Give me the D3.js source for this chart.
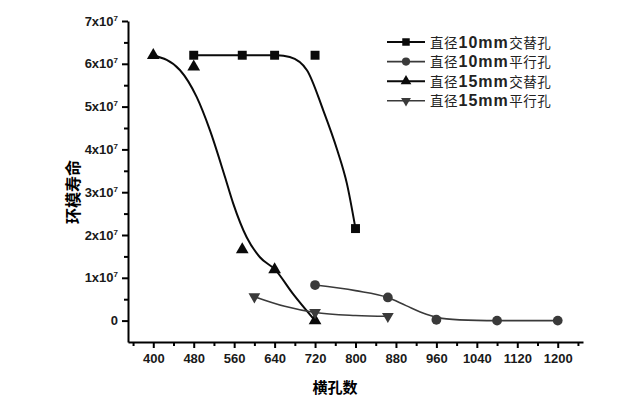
<!DOCTYPE html>
<html>
<head>
<meta charset="utf-8">
<script src="https://cdn.jsdelivr.net/npm/d3@7"></script>
<style>
    body { margin: 0; background: #fff; }
    .axis path, .axis line { stroke: #000; stroke-width: 2; }
    .axis text { font-family: "Liberation Sans", Arial, sans-serif; font-weight: bold; font-size: 13px; fill: #1a1a1a; }
</style>
</head>
<body>
<div id="chart"></div>
<script>

// x ticks and y ticks
var xMajor = [400, 480, 560, 640, 720, 800, 880, 960, 1040, 1120, 1200];
var xMinor = [360, 440, 520, 600, 680, 760, 840, 920, 1000, 1080, 1160, 1240];
var yMajor = [0, 1e7, 2e7, 3e7, 4e7, 5e7, 6e7, 7e7];
var yMinor = [0.5e7, 1.5e7, 2.5e7, 3.5e7, 4.5e7, 5.5e7, 6.5e7];

var seriesNames = ["直径10mm交替孔", "直径10mm平行孔", "直径15mm交替孔", "直径15mm平行孔"];

// measured points
var alt10X = [480, 576, 640, 720, 800];
var alt10Y = [6.2e7, 6.2e7, 6.2e7, 6.2e7, 2.15e7];
var par10X = [720, 864, 960, 1080, 1200];
var par10Y = [0.83e7, 0.54e7, 0.02e7, 0, 0];
var alt15X = [400, 480, 576, 640, 720];
var alt15Y = [6.2e7, 5.93e7, 1.66e7, 1.19e7, 0];
var par15X = [600, 720, 864];
var par15Y = [0.56e7, 0.19e7, 0.1e7];

// fitted curves
var alt10FitX = [480, 576, 645, 670, 704, 736, 764, 783, 800];
var alt10FitY = [6.2e7, 6.2e7, 6.2e7, 6.16e7, 5.85e7, 4.92e7, 3.98e7, 3.2e7, 2.15e7];
var par10FitX = [720, 800, 864, 900, 940, 980, 1040, 1080, 1200];
var par10FitY = [0.83e7, 0.7e7, 0.54e7, 0.35e7, 0.15e7, 0.04e7, 0.005e7, 0, 0];
var alt15FitX = [400, 453, 486, 512, 542, 558, 585, 611, 641, 676, 720];
var alt15FitY = [6.2e7, 5.85e7, 5.22e7, 4.45e7, 3.35e7, 2.74e7, 1.94e7, 1.48e7, 1.19e7, 0.63e7, 0];
var par15FitX = [600, 660, 720, 800, 864];
var par15FitY = [0.56e7, 0.335e7, 0.19e7, 0.12e7, 0.1e7];


function zip(xs, ys) {
    return xs.map(function(x, i) { return { x: x, y: ys[i] }; });
}

LifeChart = function(_parentElement){
    this.parentElement = _parentElement;
    this.series = [
        { name: seriesNames[0], pts: zip(alt10X, alt10Y), fit: zip(alt10FitX, alt10FitY), shape: d3.symbolSquare, size: 80, rot: 0, color: "#0a0a0a", lw: 2 },
        { name: seriesNames[1], pts: zip(par10X, par10Y), fit: zip(par10FitX, par10FitY), shape: d3.symbolCircle, size: 75, rot: 0, color: "#3a3a3a", lw: 1.6 },
        { name: seriesNames[2], pts: zip(alt15X, alt15Y), fit: zip(alt15FitX, alt15FitY), shape: d3.symbolTriangle, size: 70, rot: 0, color: "#0a0a0a", lw: 2 },
        { name: seriesNames[3], pts: zip(par15X, par15Y), fit: zip(par15FitX, par15FitY), shape: d3.symbolTriangle, size: 60, rot: 180, color: "#3a3a3a", lw: 1.6 }
    ];
    this.initVis();
}

LifeChart.prototype.initVis = function(){
    var vis = this;

    vis.width = 640;
    vis.height = 396;

    vis.svg = d3.select(vis.parentElement).append("svg")
        .attr("width", vis.width)
        .attr("height", vis.height);

    vis.x = d3.scaleLinear().domain([350, 1250]).range([128, 583]);
    vis.y = d3.scaleLinear().domain([-0.5e7, 7e7]).range([342, 21]);

    // minor ticks first, then the labelled ones
    vis.svg.append("g").attr("class", "axis")
        .attr("transform", "translate(0,342)")
        .call(d3.axisBottom(vis.x).tickValues(xMinor).tickSize(4).tickFormat(""))
        .select(".domain").remove();

    vis.svg.append("g").attr("class", "axis")
        .attr("transform", "translate(128,0)")
        .call(d3.axisLeft(vis.y).tickValues(yMinor).tickSize(4).tickFormat(""))
        .select(".domain").remove();

    vis.svg.append("g").attr("class", "axis")
        .attr("transform", "translate(0,342)")
        .call(d3.axisBottom(vis.x).tickValues(xMajor).tickSize(6).tickSizeOuter(0).tickPadding(6).tickFormat(d3.format("d")));

    var yAxis = vis.svg.append("g").attr("class", "axis")
        .attr("transform", "translate(128,0)")
        .call(d3.axisLeft(vis.y).tickValues(yMajor).tickSize(6).tickSizeOuter(0).tickPadding(4).tickFormat(""));

    yAxis.selectAll(".tick text").each(function(d) {
        var t = d3.select(this);
        if (d === 0) { t.text("0"); return; }
        t.append("tspan").text((d / 1e7) + "x10");
        t.append("tspan").attr("dy", "-5").style("font-size", "8px").text("7");
    });

    // axis titles
    vis.svg.append("text")
        .attr("transform", "translate(79,192) rotate(-90)")
        .attr("text-anchor", "middle")
        .style("font-family", "'Noto Sans CJK SC'")
        .style("font-weight", "bold")
        .style("font-size", "16px")
        .text("环模寿命");

    vis.svg.append("text")
        .attr("x", 335)
        .attr("y", 393)
        .attr("text-anchor", "middle")
        .style("font-family", "'Noto Sans CJK SC'")
        .style("font-weight", "bold")
        .style("font-size", "15px")
        .text("横孔数");

    vis.updateVis();
};

LifeChart.prototype.updateVis = function(){
    var vis = this;

    var line = d3.line()
        .x(function(d) { return vis.x(d.x); })
        .y(function(d) { return vis.y(d.y); })
        .curve(d3.curveMonotoneX);

    vis.series.forEach(function(s) {
        vis.svg.append("path")
            .datum(s.fit)
            .attr("d", line)
            .style("fill", "none")
            .style("stroke", s.color)
            .style("stroke-width", s.lw);

        vis.svg.selectAll(null)
            .data(s.pts)
            .enter().append("path")
            .attr("d", d3.symbol().type(s.shape).size(s.size))
            .attr("transform", function(d) {
                return "translate(" + vis.x(d.x) + "," + vis.y(d.y) + ") rotate(" + s.rot + ")";
            })
            .style("fill", s.color);
    });

    // legend
    var legend = vis.svg.append("g").attr("transform", "translate(387,42)");

    vis.series.forEach(function(s, i) {
        var row = legend.append("g").attr("transform", "translate(0," + (i * 19.6) + ")");
        row.append("line")
            .attr("x1", 0).attr("x2", 38)
            .style("stroke", s.color)
            .style("stroke-width", s.lw);
        row.append("path")
            .attr("d", d3.symbol().type(s.shape).size(s.size * 0.7))
            .attr("transform", "translate(19,0) rotate(" + s.rot + ")")
            .style("fill", s.color);

        // the label mixes a CJK font with bold latin digits; one text per run
        var m = s.name.match(/^(\D+)(\d+mm)(\D+)$/);
        var runs = [
            { t: m[1], fam: "'Noto Sans CJK SC'", w: "normal", fs: "13.5px", ls: "0.5px" },
            { t: m[2], fam: "'Liberation Sans', Arial, sans-serif", w: "bold", fs: "16px", ls: "1px" },
            { t: m[3], fam: "'Noto Sans CJK SC'", w: "normal", fs: "13.5px", ls: "0.5px" }
        ];
        var xpos = 43;
        runs.forEach(function(r) {
            var el = row.append("text")
                .attr("x", xpos)
                .attr("y", 5.5)
                .style("font-family", r.fam)
                .style("font-weight", r.w)
                .style("font-size", r.fs)
                .style("letter-spacing", r.ls)
                .style("fill", "#222")
                .text(r.t);
            xpos += el.node().getComputedTextLength() + 0.5;
        });
    });
};

new LifeChart("#chart");

</script>
</body>
</html>
